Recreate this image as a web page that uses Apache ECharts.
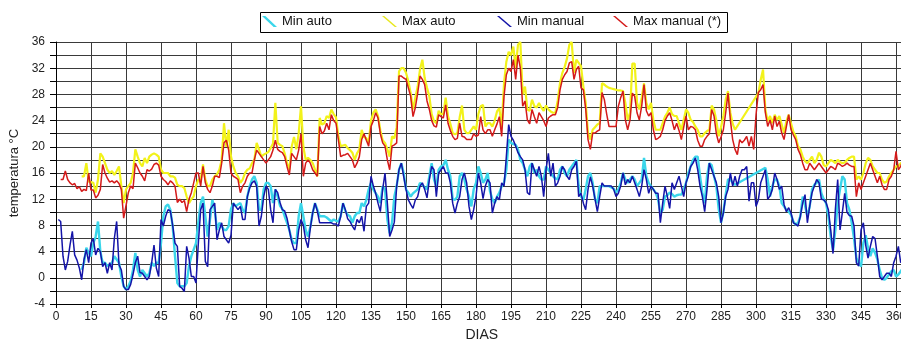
<!DOCTYPE html>
<html>
<head>
<meta charset="utf-8">
<script src="https://cdn.jsdelivr.net/npm/echarts@6/dist/echarts.min.js"></script>
<style>html,body{margin:0;padding:0;background:#fff;}#c{width:901px;height:340px;}</style>
</head>
<body>
<div id="c"></div>
<script>
// Daily values; index i corresponds to day (start + i). null = missing day (line connected across).
const seriesNames = ['Min auto', 'Max auto', 'Min manual', 'Max manual (*)'];
const yTicks = [-4, 0, 4, 8, 12, 16, 20, 24, 28, 32, 36];
const xTickStep = 15;

const minAutoStart = 11;
const minAuto = [
  1.2,2.3,4.6,3.8,3.3,5.3,6.3,8.6,4,2.3,
  2.3,1.8,2,2.3,3.3,2.8,2.3,0.2,-1.3,-1.8,
  -1.3,-0.5,1.2,3.8,1.2,0.2,1.2,0.7,0.2,0.7,
  2.3,1.8,2.3,2.3,5.3,9.4,10.9,11.2,10.4,7.9,
  3.3,-0.8,-1.3,-1.3,-1.3,-0.8,1.8,3.3,4.3,5.3,
  8.5,11.4,12.4,9.4,6.3,8.9,11.9,10.4,7.3,8.4,
  7.9,7.3,7.3,7.9,10.5,11.4,10.9,11.2,11.4,10.4,
  9.9,12.4,14,15,15.5,14.5,10.4,10.4,13.5,14.5,
  14.5,14,11.4,13.5,12.4,11,10.5,9.4,8.4,7.3,
  5.8,5.3,5.3,9.4,11.4,9.4,7.3,6.3,7.8,9.9,
  11.4,10.4,9.4,9.4,9.4,9.2,8.9,8.6,8.9,8.7,
  8.6,9.4,11.4,10.2,9.6,9.4,8.4,9.4,9.9,9.9,
  11.4,10.9,11.9,13.5,14.5,13.5,12.9,12.4,11.4,14,
  13.5,8.9,6.8,8.4,12.4,14,16.5,17.5,16,13.5,
  13,12.4,12.9,13.2,13.5,14.5,14.2,13.8,13.5,15.5,
  17.5,15,14,16.5,17,17.2,18,16.5,15.5,12,
  11.9,12.4,15.5,16,15,13.5,12.4,10.9,13.5,14.5,
  17,16,14.5,15,16,13.2,12,11.4,12.4,13,
  14,14.5,16.5,21.1,20.6,20.4,20.3,19.6,18,17.5,
  16.5,15.5,17,17.5,16,16.5,15.5,15,15,17,
  16.5,16,15.5,15.2,15,16.5,17,16,15.5,16.5,
  17,17.5,18,14,12.4,11.9,13.5,15.5,16,14.5,
  12,11.4,14,14,14,14,14,13.8,13.6,13,
  13.5,14.5,16,15,14.5,15,15.5,15,14,14.5,
  15,18.3,15.5,14.5,14,13.5,13,12,9.9,10.4,
  12.4,12.6,13,12.8,12.4,12.6,12.7,12.7,13.5,14.5,
  16,17,18,18.5,18.5,15.5,13,11.4,15.5,17.5,
  17.2,15.5,14,10.5,8.4,10,12.7,15,15,14.5,
  14.2,null,null,null,null,null,null,null,null,null,
  null,null,null,16.8,15,12.4,14,15,15,14,
  11.4,10.9,10.4,10.1,9.6,8.6,8.1,8.4,9.4,12.4,
  11,9.4,10.9,13.5,14.2,14.5,15,12.9,12,11.4,
  9.4,6.3,4.2,7.3,11.4,13.5,15.5,15,11.4,10.4,
  8.4,6,3,2.3,1.7,5.3,6.5,4.5,3.3,4.5,
  3.8,2.8,1.2,0,-0.3,0,0.5,1,1.2,0.2,
  0.5,1,1.5
];

const maxAutoStart = 11;
const maxAuto = [
  15.5,15.5,17.5,14.7,14.6,14.5,13,15,19,18.5,
  17.5,16.5,16,16.3,15.7,16.3,17,14,11.4,13.5,
  14,14.5,16,19.6,18.5,17.5,17,18.3,17.5,18.5,
  18.8,19,18.8,18.5,16.5,16,16,16,15.5,15.5,
  15.3,14.2,14,14,13.7,12.4,11.4,12,12.4,14,
  15,15,17.3,15,14,14,15,15.5,15.8,16.5,
  18,23.6,20,22.6,18.5,17,16,15.5,14.5,15,
  16,16.5,16.7,17.5,18,20.6,19.6,18.5,18.8,19,
  19.2,19.8,20.5,26.7,20.6,20.3,20.1,19,17.5,16.5,
  20,21.5,19.6,22,26.2,20,18,18.3,18,17.5,
  16.5,15.5,24.4,23.4,23.6,24.7,24.4,25.7,25,24.5,
  21.6,20.1,20.2,20.3,19.8,19.5,19.1,18,19,19.6,
  22.6,21.5,21.3,20.6,24,25.2,25.7,24.7,22.5,21,
  20.6,19.6,18.5,21.6,21.3,23,31.5,32,32,31.3,
  30,28.2,25.7,27.5,29.2,31.8,33.3,30.5,29,27.7,
  25,23.9,23.6,25.5,25,25,27.5,24.7,23.5,22.1,
  21.9,22.1,24.5,26.3,22.6,22.1,22.1,22.6,23.1,22.6,
  25,26.2,26.4,23.1,23.6,23.6,23.1,24,25.4,25.9,
  23,29.7,33,34.5,34,35.3,32,35.6,36,28,
  29.2,25.7,25.5,27.2,26.2,26,26.7,26,25.5,26.3,
  25.7,25.4,25.2,25.2,27,29.7,31.3,32.2,33.5,35.6,
  36,31.3,33.3,32.8,32.3,29.2,26.7,22.1,21.1,22.6,
  23,23.4,23.6,29.7,29.5,29.2,29,28.9,28.8,28.7,
  28.6,28.6,28.5,26.7,24.1,25.2,32.7,32.7,26.7,25.7,
  27.5,29.7,26.7,25.7,26.7,24.1,22.6,22.6,22.6,23.6,
  24.6,25.2,26,25,24.7,24.7,23.6,22.6,24.1,25.7,
  25.2,24.1,23.8,23.1,22.6,21.6,21.6,22.1,22.4,22.6,
  26.3,25.7,24,21.6,23,24.7,27.2,28.5,25.2,23.5,
  22.6,null,null,null,null,null,null,null,null,null,
  28.2,30.2,31.8,25.7,23.9,24.7,23.6,24.9,24.1,24.7,
  23.4,22.1,23.9,24.9,23.6,22.3,21.6,20.1,19.6,18.5,
  17.8,17.5,18,18.5,17.5,18,19.1,18.5,17.2,17,
  17.5,18,17.8,17.5,18,17.7,17.5,17.6,18,18.3,
  18.5,18.5,15,15.5,15,16,17.5,18.3,18,17,
  16.5,16,16,15,14.5,14.7,15.5,16,16.5,17,
  17,17.5,17.5
];

const minManualStart = 1;
const minManual = [
  8.9,8.6,3.3,1.2,2.5,5,7.1,3.5,2.7,1.5,
  -0.3,2.8,4.3,2.3,5.3,6,3.5,4.5,4,1.7,
  2.3,0.7,2.3,1.2,6,8.6,2,1.2,-1.3,-1.8,
  -1.8,-1,0.5,2.3,3.3,0.8,0.7,0.2,-0.3,0.2,
  2.3,5,1.5,0.2,8.9,7.9,9.4,10.4,10.2,8,
  5.3,4.8,-1.3,-1.6,-2.1,4.8,3,0.2,0.2,-0.8,
  5.3,10.4,11.4,2.5,1.7,10.4,10.9,11.4,5.8,7.3,
  8.4,6.3,5.8,5.3,6.5,11.4,10.9,10.4,10.9,8.9,
  8.9,12.4,13.7,14.5,14.8,14,7.9,9.4,12.4,14,
  13.5,10.4,8.4,13.5,13,11.5,10.4,10.2,9.1,7.3,
  5.5,4.3,4.3,7.3,8.9,8,5.8,4.6,7.6,9.9,
  11.4,10.2,8.4,8.4,8.4,8.4,8.4,8.4,8.2,8.2,
  7.9,9.4,11.4,10.4,9,8.6,7.9,7.3,8.9,8.4,
  9.4,7.1,10.9,11.4,15.5,14,12.9,11.4,10.1,13.5,
  16,11.4,6.3,7.3,8.5,14,16.5,17.5,15.5,13.5,
  11.9,11.2,10.6,11.9,12.4,14,14.5,13.5,12.2,15,
  17,16.5,12.4,16,16.5,17,16,16,14.5,11.4,
  9.9,11.4,12.4,15,16,14.5,10.9,8.9,10.4,12.4,
  16,14.5,12.1,14,15,14.5,9.9,11.4,12.4,11.9,
  14.5,14,18.5,23.4,21.6,21,20.1,19.1,18.5,18,
  16.5,13,12.7,17.5,16.5,15.5,17,15.5,12.4,16.5,
  19,15.5,17.5,14,14.5,15.5,17,16.5,15.5,15,
  16.5,17,17.8,12.4,12.9,11.4,10.4,13.5,15.4,14,
  12,10.1,12.4,14.5,14,14,14,14,13.5,12.4,
  12.9,14,16,14.2,15,14.5,15.5,14.5,13.5,12.4,
  14,16.5,15,12.9,14,13.5,12.9,12.9,8.4,11.4,
  14,12.4,10.6,14.5,13.5,14.5,15.5,14,12.4,14.5,
  15.5,17,17.5,18.3,16.5,14,12.4,10.1,13.5,17.5,
  16.5,15.5,14.5,12.4,8.4,9.9,12.4,13.5,16,14,
  15.5,14,15.5,16.5,16.5,17,11.7,14.5,14.5,10.9,
  11.9,14.5,15.5,16.5,12,12.5,13.5,16,15,13.5,
  14,11.2,10.1,10.7,9.9,8.4,8.2,7.9,9.4,11.4,
  12.7,8.4,10.9,13,14,15,14.5,12,11.9,11.5,
  10.4,7.3,3.7,10.4,15,7.3,10,12.9,10,9.5,
  9.4,7.9,2.3,1.8,7.3,8.4,5,3,4.8,6.3,
  6,3.3,0.2,-0.3,0.2,0.7,0.7,0.2,2.3,3.3,
  4.8,2.3,3,4,3.5
];

const maxManualStart = 2;
const maxManual = [
  15,15,16.3,15,14.5,14.2,14.4,13.6,13.9,
  13.2,13.5,13.3,16,13.4,13.4,12.2,12.6,13.5,17.3,
  16,15.2,14.6,14.8,14.5,14.8,14.4,13.5,9.1,11,
  13,14,13.6,17.5,16.8,16,15.5,14.8,16.5,16.3,
  16.6,17.3,17.5,17.2,15.5,15,14.7,14.2,14.8,14.5,
  14,11.5,12,11.5,11.8,10.1,12,13,14.5,16,
  16,14,17,14.5,13.5,13,14,15.5,15.5,15.3,
  17.5,20.6,21,19.5,16,15.5,15.3,15,13,14,
  14.5,15.5,16,16,18,19.5,19,18.5,18,17.5,
  18,18.5,19.5,21,19.6,19.3,19.1,18.5,17,15.7,
  19,18.5,18,19.5,22,15.5,17.5,18,17.5,16.5,
  16,15.5,23.1,22,22.4,23.6,22.6,24.9,24,23.6,
  21.1,18.5,18.7,18.8,19,18.5,18,16.8,17.5,18.5,
  21.1,22,21,20.1,23.1,24,25.2,24.4,22,20.6,
  20.1,18,16.5,20.1,20.3,20.6,30.8,30.8,30.5,30.3,
  29,27.7,24.6,26,28.2,30.8,30.3,29.5,27,25.7,
  24,23.2,23,24.9,24.6,24.4,26.4,23.6,22.5,21.6,
  21.1,21.3,23.6,21.6,21.5,21.1,21.1,21.1,22,21.6,
  21.8,24.6,22.6,22,22.6,22.6,21.6,22.6,23.5,24.6,
  21.6,27.7,31,32,31.5,33.3,30.3,34,32,26.2,
  27,24.1,23.5,25.7,24.6,23.6,25.2,24.6,24,23.1,
  24.4,24.7,24.9,24.9,26,28.7,30.3,31,31.5,32.8,
  33,30.3,31.8,32.3,29,28.7,25.8,21.1,19.6,22.1,
  22.1,22.4,22.6,28.3,27.2,25,23.1,23.1,23.1,23.1,
  26.2,27.5,28.5,24.1,22.6,24.1,28.2,27.7,25.2,24.1,
  26.2,29.5,25.5,24.7,25.2,22.6,21.1,21.3,21.6,22.6,
  24,24.7,25.2,24,22.6,23.6,22.5,21.1,23,24.7,
  22.6,23.1,23,22.6,21,20.1,20.1,21.1,21.6,22,
  25.7,24.7,22,20.6,21.5,22.6,25.2,28.2,24.1,21.1,
  19.6,18.8,21.1,20.6,21,21.6,20.1,21.6,19.6,24.9,
  28.3,28.7,29.5,25.2,23.1,24.1,22.6,24.7,23.1,23.9,
  22.1,21.1,23.1,24.9,22.6,21.8,21.1,19.6,18.8,17.5,
  16.5,16.5,17.5,17,16.5,17,17.5,17,16.5,16,
  16.5,17,16.8,16.5,17.5,17.3,17,17.2,17.5,17.2,
  17,17,12.4,14.5,13.5,14.5,15.5,16.5,17.5,16.5,
  15.5,14.5,15.5,14.2,13.5,13.5,15,15.5,16.5,19.3,
  16.5,17,18,17.5,17.8
];

function toPairs(start, vals) {
  return vals.map(function (v, i) { return [start + i, v]; });
}

const FONT = 'Liberation Sans, Arial, sans-serif';
const chart = echarts.init(document.getElementById('c'), null, { renderer: 'canvas' });
const iconThin = 'path://M0,0 L2.2,0 L15,11 L12.8,11 Z';
const iconThick = 'path://M0,0 L3.4,0 L15,11 L11.6,11 Z';
const legendLefts = [262, 382, 497, 613];
const legendIcons = [iconThick, iconThin, iconThin, iconThin];

const legends = seriesNames.map(function (n, i) {
  return {
    left: legendLefts[i],
    top: 15,
    padding: 0,
    itemWidth: 15,
    itemHeight: 11,
    textStyle: { fontFamily: FONT, fontSize: 13, color: '#111' },
    data: [{ name: n, icon: legendIcons[i] }]
  };
});

chart.setOption({
  animation: false,
  backgroundColor: '#ffffff',
  legend: legends,
  graphic: [{
    type: 'rect', silent: true, z: 1,
    shape: { x: 260.5, y: 12.5, width: 467, height: 20 },
    style: { fill: 'none', stroke: '#000', lineWidth: 1 }
  }],
  grid: { left: 56, top: 42, width: 851.7, height: 262, containLabel: false, outerBoundsMode: 'none' },
  xAxis: {
    type: 'value',
    min: 0,
    max: 365,
    interval: xTickStep,
    name: 'DIAS',
    nameLocation: 'middle',
    nameGap: 23,
    nameTextStyle: { fontFamily: FONT, fontSize: 14, color: '#222' },
    axisLine: { show: true, onZero: false, lineStyle: { color: '#000', width: 1 } },
    axisTick: { show: true, length: 4, lineStyle: { color: '#000' } },
    axisLabel: { fontFamily: FONT, fontSize: 12, color: '#222', margin: 7 },
    splitLine: { show: true, lineStyle: { color: '#3a3a3a', width: 1 } }
  },
  yAxis: {
    type: 'value',
    min: yTicks[0],
    max: yTicks[yTicks.length - 1],
    interval: 2,
    name: 'temperatura °C',
    nameLocation: 'middle',
    nameGap: 28,
    nameTextStyle: { fontFamily: FONT, fontSize: 13, color: '#222' },
    axisLine: { show: true, lineStyle: { color: '#000', width: 1 } },
    axisTick: { show: true, length: 6, lineStyle: { color: '#000' } },
    axisLabel: {
      fontFamily: FONT, fontSize: 12, color: '#222', margin: 11,
      formatter: function (v) { return yTicks.indexOf(v) >= 0 ? String(v) : ''; }
    },
    splitLine: { show: true, lineStyle: { color: '#3a3a3a', width: 1 } }
  },
  series: [
    { name: seriesNames[0], type: 'line', data: toPairs(minAutoStart, minAuto), showSymbol: false, connectNulls: true,
      color: '#3ad6ea', lineStyle: { color: '#3ad6ea', width: 2.4 }, itemStyle: { color: '#3ad6ea' } },
    { name: seriesNames[1], type: 'line', data: toPairs(maxAutoStart, maxAuto), showSymbol: false, connectNulls: true,
      color: '#f2f21a', lineStyle: { color: '#f2f21a', width: 2.2 }, itemStyle: { color: '#e8e820' } },
    { name: seriesNames[2], type: 'line', data: toPairs(minManualStart, minManual), showSymbol: false, connectNulls: true,
      color: '#1414a8', lineStyle: { color: '#1414a8', width: 1.5 }, itemStyle: { color: '#1414a8' } },
    { name: seriesNames[3], type: 'line', data: toPairs(maxManualStart, maxManual), showSymbol: false, connectNulls: true,
      color: '#d41a1a', lineStyle: { color: '#d41a1a', width: 1.5 }, itemStyle: { color: '#d41a1a' } }
  ]
});
</script>
</body>
</html>
